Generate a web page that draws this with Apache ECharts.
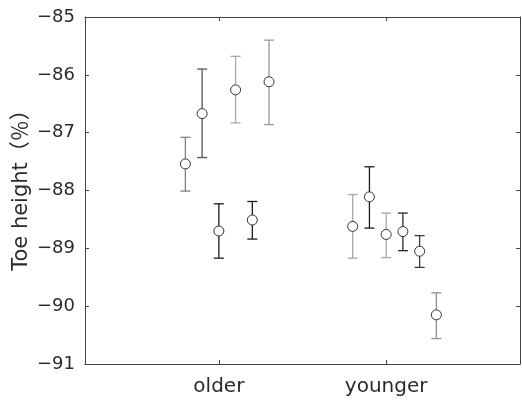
<!DOCTYPE html>
<html>
<head>
<meta charset="utf-8">
<script src="https://cdn.jsdelivr.net/npm/echarts@6/dist/echarts.min.js"></script>
<style>
html,body{margin:0;padding:0;background:#fff;}
#chart{width:522px;height:401px;}
</style>
</head>
<body>
<div id="chart"></div>
<script>
// ---- data ----
var categories = ['older', 'younger'];
var categoryPos = [1, 2];
var yTicks = [-91, -90, -89, -88, -87, -86, -85];
var yAxisTitle = 'Toe height（％）';
// x positions (data units) of each point
var xValues = [0.8, 0.9, 1.0, 1.1, 1.2, 1.3, 1.8, 1.9, 2.0, 2.1, 2.2, 2.3];
var means   = [-87.54, -86.67, -88.70, -86.26, -88.51, -86.12, -88.62, -88.11, -88.76, -88.71, -89.05, -90.15];
var lowers  = [-88.01, -87.43, -89.17, -86.83, -88.84, -86.86, -89.17, -88.65, -89.16, -89.04, -89.33, -90.56];
var uppers  = [-87.08, -85.90, -88.23, -85.68, -88.19, -85.40, -88.07, -87.59, -88.39, -88.39, -88.78, -89.77];
// ---- style ----
var shades = ['#808080', '#555555', '#1a1a1a', '#a8a8a8', '#1a1a1a', '#9a9a9a',
              '#a8a8a8', '#1a1a1a', '#a8a8a8', '#2a2a2a', '#3a3a3a', '#909090'];

var seriesData = xValues.map(function (x, i) {
  return [x, means[i], lowers[i], uppers[i], i];
});

var FONT = 'DejaVu Sans';
var axisColor = '#444';
var textColor = '#2b2b2b';

var chart = echarts.init(document.getElementById('chart'), null, {renderer: 'canvas'});
chart.setOption({
  animation: false,
  backgroundColor: '#fff',
  grid: {left: 85, right: 2, top: 17, bottom: 37, containLabel: false},
  xAxis: [{
    type: 'value', min: 0.2, max: 2.8, position: 'bottom',
    axisLine: {show: true, onZero: false, lineStyle: {color: axisColor, width: 1}},
    axisTick: {show: true, inside: true, length: 4, lineStyle: {color: axisColor}, customValues: categoryPos},
    axisLabel: {
      show: true, customValues: categoryPos, margin: 13,
      color: textColor, fontSize: 20, fontFamily: FONT,
      formatter: function (v) { var k = categoryPos.indexOf(Math.round(v)); return k >= 0 ? categories[k] : ''; }
    },
    splitLine: {show: false}
  }, {
    type: 'value', min: 0.2, max: 2.8, position: 'top',
    axisLine: {show: true, onZero: false, lineStyle: {color: axisColor, width: 1}},
    axisTick: {show: true, inside: true, length: 4, lineStyle: {color: axisColor}, customValues: categoryPos},
    axisLabel: {show: false},
    splitLine: {show: false}
  }],
  yAxis: [{
    type: 'value', min: yTicks[0], max: yTicks[yTicks.length - 1], interval: 1, position: 'left',
    axisLine: {show: true, onZero: false, lineStyle: {color: axisColor, width: 1}},
    axisTick: {show: true, inside: true, length: 4, lineStyle: {color: axisColor}},
    axisLabel: {
      show: true, margin: 10, color: textColor, fontSize: 18, fontFamily: FONT,
      formatter: function (v) { return String(v).replace('-', '\u2212'); }
    },
    splitLine: {show: false}
  }, {
    type: 'value', min: yTicks[0], max: yTicks[yTicks.length - 1], interval: 1, position: 'right',
    axisLine: {show: true, onZero: false, lineStyle: {color: axisColor, width: 1}},
    axisTick: {show: true, inside: true, length: 4, lineStyle: {color: axisColor}},
    axisLabel: {show: false},
    splitLine: {show: false}
  }],
  graphic: [{
    type: 'text', x: 22, y: 185, rotation: Math.PI / 2,
    style: {text: yAxisTitle, fill: textColor, font: '21px "DejaVu Sans", "Noto Sans CJK JP"', align: 'center', verticalAlign: 'middle'}
  }],
  series: [{
    type: 'custom',
    xAxisIndex: 0, yAxisIndex: 0,
    data: seriesData,
    encode: {x: 0, y: [1, 2, 3]},
    renderItem: function (params, api) {
      var x = api.value(0);
      var pm = api.coord([x, api.value(1)]);
      var pl = api.coord([x, api.value(2)]);
      var pu = api.coord([x, api.value(3)]);
      var c = shades[api.value(4)];
      var hw = 5, r = 5;
      var ls = {stroke: c, lineWidth: 1.3};
      return {
        type: 'group',
        children: [
          {type: 'line', shape: {x1: pu[0], y1: pu[1], x2: pu[0], y2: pm[1] - r}, style: ls},
          {type: 'line', shape: {x1: pl[0], y1: pm[1] + r, x2: pl[0], y2: pl[1]}, style: ls},
          {type: 'line', shape: {x1: pu[0] - hw, y1: pu[1], x2: pu[0] + hw, y2: pu[1]}, style: ls},
          {type: 'line', shape: {x1: pl[0] - hw, y1: pl[1], x2: pl[0] + hw, y2: pl[1]}, style: ls},
          {type: 'circle', shape: {cx: pm[0], cy: pm[1], r: r}, style: {fill: 'none', stroke: '#333', lineWidth: 1}}
        ]
      };
    }
  }]
});
</script>
</body>
</html>
